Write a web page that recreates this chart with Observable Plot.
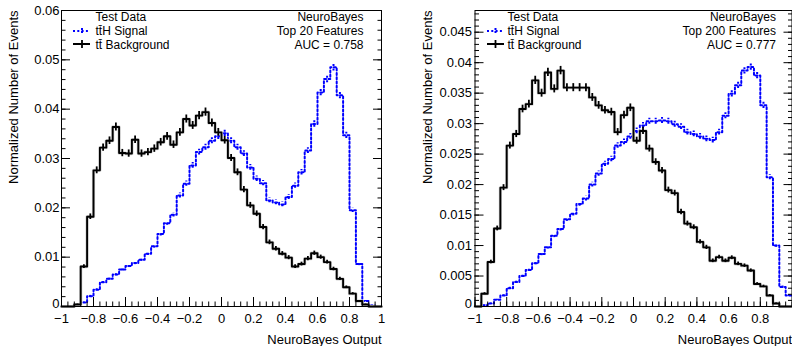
<!DOCTYPE html>
<html><head><meta charset="utf-8">
<script src="https://cdn.jsdelivr.net/npm/d3@7"></script>
<script src="https://cdn.jsdelivr.net/npm/@observablehq/plot@0.6"></script>
<style>
html,body{margin:0;padding:0;background:#fff;}
#wrap{position:relative;width:792px;height:346px;overflow:hidden;background:#fff;}
.panel{position:absolute;top:0;width:396px;height:346px;}
#overlay{position:absolute;left:0;top:0;pointer-events:none;}
</style></head><body>
<div id="wrap"><div class="panel" id="p1" style="left:0"></div><div class="panel" id="p2" style="left:396px"></div></div>
<script>
// ---- Data (50 bins of width 0.04 from -1 to 1) ----
const xTicks = [-1, -0.8, -0.6, -0.4, -0.2, 0, 0.2, 0.4, 0.6, 0.8, 1];
const xTicksRight = [-1, -0.8, -0.6, -0.4, -0.2, 0, 0.2, 0.4, 0.6, 0.8];
const yTicksLeft = [0, 0.01, 0.02, 0.03, 0.04, 0.05, 0.06];
const yTicksRight = [0, 0.005, 0.01, 0.015, 0.02, 0.025, 0.03, 0.035, 0.04, 0.045];

const bkgLeft = [0, 0, 0.0004, 0.0081, 0.0182, 0.0276, 0.0322, 0.0336, 0.0364, 0.0311,
  0.031, 0.0338, 0.031, 0.0313, 0.032, 0.0333, 0.0345, 0.0328, 0.0353, 0.038,
  0.0367, 0.0387, 0.0394, 0.0372, 0.0353, 0.0337, 0.0301, 0.0272, 0.0237, 0.0205,
  0.0188, 0.0161, 0.013, 0.0117, 0.0107, 0.0099, 0.0081, 0.0086, 0.0097, 0.0108,
  0.01, 0.009, 0.0076, 0.0056, 0.0039, 0.0026, 0.0011, 0.0004, 0, 0];
const sigLeft = [0, 0, 0.0004, 0.0008, 0.0021, 0.0034, 0.0049, 0.0056, 0.0065, 0.0075,
  0.0082, 0.0088, 0.0095, 0.0107, 0.0122, 0.0147, 0.0169, 0.0186, 0.0225, 0.0249,
  0.0286, 0.0313, 0.0323, 0.0336, 0.0345, 0.0351, 0.0336, 0.0323, 0.031, 0.0282,
  0.0259, 0.025, 0.0215, 0.0211, 0.0207, 0.0222, 0.0245, 0.0272, 0.0316, 0.037,
  0.0434, 0.0461, 0.0485, 0.0428, 0.0347, 0.0195, 0.0086, 0.0011, 0.0002, 0];
const bkgRight = [0, 0.0021, 0.0073, 0.0128, 0.0195, 0.0264, 0.0283, 0.0324, 0.0332, 0.0371,
  0.035, 0.0384, 0.0357, 0.0387, 0.0359, 0.0359, 0.0359, 0.0359, 0.0343, 0.033,
  0.0322, 0.0319, 0.0286, 0.0314, 0.0326, 0.0272, 0.0288, 0.0259, 0.0237, 0.0223,
  0.0191, 0.0186, 0.0155, 0.0136, 0.013, 0.0106, 0.0097, 0.0075, 0.0081, 0.0075,
  0.008, 0.007, 0.0067, 0.0059, 0.0037, 0.0033, 0.0018, 0.0005, 0, 0];
const sigRight = [0, 0.0002, 0.0005, 0.0011, 0.0018, 0.003, 0.004, 0.005, 0.006, 0.0071,
  0.0086, 0.0097, 0.0116, 0.0127, 0.0143, 0.0152, 0.0168, 0.0177, 0.02, 0.0218,
  0.0234, 0.0242, 0.0264, 0.027, 0.0279, 0.0288, 0.0297, 0.0304, 0.0304, 0.0305,
  0.0304, 0.0299, 0.0295, 0.0286, 0.0283, 0.0279, 0.0275, 0.0273, 0.0286, 0.0313,
  0.0349, 0.0363, 0.0387, 0.0393, 0.0379, 0.033, 0.0212, 0.01, 0.0032, 0.0018];

const infoLeft = ["NeuroBayes", "Top 20 Features", "AUC = 0.758"];
const infoRight = ["NeuroBayes", "Top 200 Features", "AUC = 0.777"];
const legendLabels = ["Test Data", "tt\u0304H Signal", "tt\u0304 Background"];

const nBins = 50, xLo = -1, binW = 0.04;
const FONT = "'Liberation Sans', Arial, Helvetica, sans-serif";

function stepData(vals) {
  const pts = vals.map((v, i) => ({x: xLo + i * binW, y: v}));
  pts.push({x: xLo + nBins * binW, y: vals[vals.length - 1]});
  return pts;
}
function errData(vals, k) {
  return vals.map((v, i) => ({x: xLo + (i + 0.5) * binW, v, e: k * Math.sqrt(v)})).filter(d => d.v > 0);
}
const fmtX = d => Math.abs(d) < 1e-9 ? "0" : (d < 0 ? "\u2212" : "") + String(+Math.abs(d).toFixed(2));
const fmtY = d => Math.abs(d) < 1e-9 ? "0" : String(+d.toFixed(3));

function panel(cfg) {
  const xMinor = d3.range(-1, 1.0001, 0.04);
  const yMinor = d3.range(0, cfg.yMax + 1e-9, cfg.yMinorStep);
  const dotted = {stroke: "#0000ff", strokeWidth: 2, strokeDasharray: "2,2.3"};
  const lineDy = [7, 21, 35];
  const yLabelled = cfg.yTicks.filter(d => d !== 0);
  const yZero = cfg.yTicks.filter(d => d === 0);
  return Plot.plot({
    width: 396, height: 346,
    marginLeft: cfg.ml, marginRight: cfg.mr, marginTop: 10, marginBottom: 40,
    x: {domain: [-1, 1]},
    y: {domain: [0, cfg.yMax]},
    style: {fontFamily: FONT, fontSize: "13px", color: "#000", background: "transparent", overflow: "visible"},
    marks: [
      // signal (dotted blue)
      Plot.lineY(stepData(cfg.sig), {x: "x", y: "y", curve: "step-after", ...dotted}),
      Plot.ruleX(errData(cfg.sig, cfg.k * 0.8), {x: "x", y1: d => d.v - d.e, y2: d => d.v + d.e, ...dotted}),
      // background (solid black)
      Plot.lineY(stepData(cfg.bkg), {x: "x", y: "y", curve: "step-after", stroke: "#d2d2d2", strokeWidth: 3.2}),
      Plot.lineY(stepData(cfg.bkg), {x: "x", y: "y", curve: "step-after", stroke: "#000", strokeWidth: 1.9}),
      Plot.ruleX(errData(cfg.bkg, cfg.k), {x: "x", y1: d => d.v - d.e, y2: d => d.v + d.e, stroke: "#000", strokeWidth: 1.8}),
      Plot.frame({stroke: "#000", strokeWidth: 1}),
      // axes with inward ticks
      Plot.axisX(cfg.xTicks, {anchor: "bottom", tickSize: -9, tickPadding: 16, tickFormat: fmtX, label: null, fontSize: 13}),
      Plot.axisX(xMinor, {anchor: "bottom", tickSize: -4.5, fill: "none", label: null}),
      Plot.axisY(cfg.yTicks, {anchor: "left", tickSize: -9, fill: "none", label: null}),
      Plot.axisY(yLabelled, {anchor: "left", tickSize: 0, tickPadding: cfg.yPad - 9, tickFormat: fmtY, label: null, fontSize: 13}),
      Plot.axisY(yZero, {anchor: "left", tickSize: 0, tickPadding: cfg.yPad - 9, tickFormat: fmtY, label: null, fontSize: 13, dy: -2.5}),
      Plot.axisY(yMinor, {anchor: "left", tickSize: -4.5, fill: "none", label: null}),
      Plot.axisY(cfg.yTicks, {anchor: "right", tickSize: -9, fill: "none", label: null}),
      Plot.axisY(yMinor, {anchor: "right", tickSize: -4.5, fill: "none", label: null}),
      // axis titles
      Plot.text(["NeuroBayes Output"], {frameAnchor: "bottom-right", textAnchor: "end", lineAnchor: "middle", dy: 33, fontSize: 13, text: d => d}),
      Plot.text(["Normalized Number of Events"], {frameAnchor: "top-left", textAnchor: "end", lineAnchor: "middle", rotate: -90, dx: cfg.ytDx, dy: 0, fontSize: 13, text: d => d}),
      // legend texts
      ...legendLabels.map((t, i) => Plot.text([t], {frameAnchor: "top-left", textAnchor: "start", lineAnchor: "middle", dx: cfg.legDx, dy: lineDy[i], fontSize: 12, text: d => d})),
      ...cfg.info.map((t, i) => Plot.text([t], {frameAnchor: "top-right", textAnchor: "end", lineAnchor: "middle", dx: cfg.infoDx, dy: lineDy[i], fontSize: 12, text: d => d}))
    ]
  });
}

const left = panel({bkg: bkgLeft, sig: sigLeft, yMax: 0.06, yMinorStep: 0.002, yTicks: yTicksLeft, xTicks: xTicks,
  ml: 61, mr: 15, yPad: 11, k: 0.0042, ytDx: -48, legDx: 34, infoDx: -18, info: infoLeft});
const right = panel({bkg: bkgRight, sig: sigRight, yMax: 0.04856, yMinorStep: 0.001, yTicks: yTicksRight, xTicks: xTicksRight,
  ml: 78.5, mr: 0.5, yPad: 12, k: 0.0035, ytDx: -47.5, legDx: 32.5, infoDx: -16, info: infoRight});
document.getElementById("p1").appendChild(left);
document.getElementById("p2").appendChild(right);

// legend glyphs overlay
const ov = d3.select("#wrap").append("svg").attr("id", "overlay").attr("width", 792).attr("height", 346);
function glyphs(x0, x1, xc) {
  ov.append("line").attr("x1", x0).attr("x2", x1).attr("y1", 31).attr("y2", 31)
    .attr("stroke", "#0000ff").attr("stroke-width", 2).attr("stroke-dasharray", "2,2.3");
  ov.append("line").attr("x1", xc).attr("x2", xc).attr("y1", 28).attr("y2", 34)
    .attr("stroke", "#0000ff").attr("stroke-width", 2).attr("stroke-dasharray", "2,1");
  ov.append("line").attr("x1", x0).attr("x2", x1).attr("y1", 44).attr("y2", 44)
    .attr("stroke", "#000").attr("stroke-width", 2);
  ov.append("line").attr("x1", xc).attr("x2", xc).attr("y1", 40).attr("y2", 48)
    .attr("stroke", "#000").attr("stroke-width", 1.8);
}
glyphs(73, 90, 82);
glyphs(487, 504, 495.5);
</script>
</body></html>
